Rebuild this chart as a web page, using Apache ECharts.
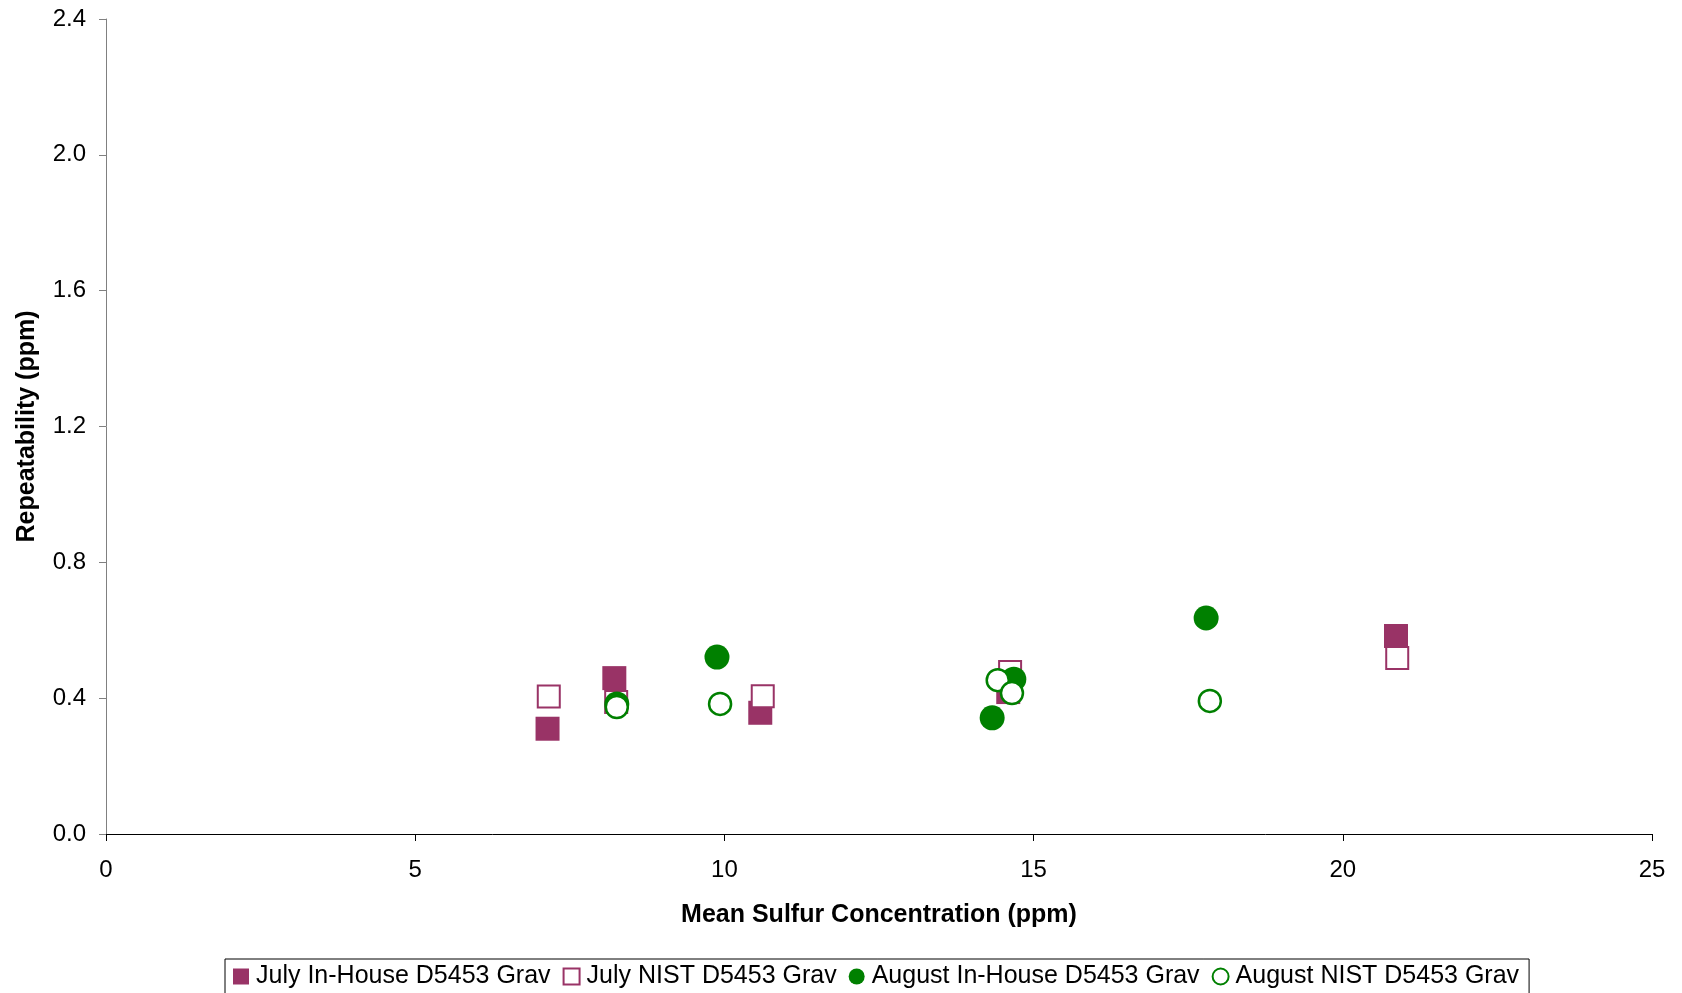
<!DOCTYPE html>
<html>
<head>
<meta charset="utf-8">
<script src="https://cdn.jsdelivr.net/npm/echarts@6/dist/echarts.min.js"></script>
<style>
html,body{margin:0;padding:0;background:#fff;}
#chart{width:1682px;height:993px;}
</style>
</head>
<body>
<div id="chart"></div>
<script>
const seriesNames = ['July In-House D5453 Grav', 'July NIST D5453 Grav', 'August In-House D5453 Grav', 'August NIST D5453 Grav'];
const julyInHouse = [[7.14, 0.31], [8.22, 0.459], [10.58, 0.357], [14.59, 0.418], [20.86, 0.583]];
const julyNist = [[7.16, 0.405], [8.25, 0.389], [10.62, 0.406], [14.62, 0.477], [20.88, 0.518]];
const augInHouse = [[8.26, 0.383], [9.88, 0.521], [14.33, 0.342], [14.68, 0.456], [17.79, 0.636]];
const augNist = [[8.26, 0.374], [9.93, 0.383], [14.42, 0.453], [14.65, 0.415], [17.85, 0.392]];
const xTitle = 'Mean Sulfur Concentration (ppm)';
const yTitle = 'Repeatability (ppm)';

const maroon = '#993366';
const green = '#008000';
const font = 'Liberation Sans, Arial, sans-serif';

const chart = echarts.init(document.getElementById('chart'));
chart.setOption({
  animation: false,
  backgroundColor: '#fff',
  textStyle: {fontFamily: font},
  grid: {left: 106, right: 30, top: 19, bottom: 159, containLabel: false},
  xAxis: {
    type: 'value', min: 0, max: 25, interval: 5,
    name: xTitle, nameLocation: 'middle', nameGap: 69,
    nameTextStyle: {fontSize: 25, fontWeight: 'bold', color: '#000', fontFamily: font},
    axisLine: {show: true, onZero: false, lineStyle: {color: '#000', width: 1}},
    axisTick: {show: true, inside: false, length: 7, lineStyle: {color: '#000'}},
    axisLabel: {fontSize: 24, color: '#000', margin: 24, fontFamily: font},
    splitLine: {show: false}
  },
  yAxis: {
    type: 'value', min: 0, max: 2.4, interval: 0.4,
    name: yTitle, nameLocation: 'middle', nameGap: 66, nameRotate: 90,
    nameTextStyle: {fontSize: 25, fontWeight: 'bold', color: '#000', fontFamily: font},
    axisLine: {show: true, onZero: false, lineStyle: {color: '#808080', width: 1}},
    axisTick: {show: true, inside: false, length: 7, lineStyle: {color: '#808080'}},
    axisLabel: {fontSize: 24, color: '#000', margin: 20, fontFamily: font, formatter: v => v.toFixed(1)},
    splitLine: {show: false}
  },
  legend: {
    data: seriesNames,
    top: 959,
    left: 225,
    itemWidth: 16, itemHeight: 16, itemGap: 12,
    padding: [5, 10, 20, 8],
    borderColor: '#000', borderWidth: 1,
    textStyle: {fontSize: 25, color: '#000', fontFamily: font, padding: [0, 0, 0, 2]}
  },
  series: [
    {name: seriesNames[0], type: 'scatter', data: julyInHouse, symbol: 'rect', symbolSize: 24,
     itemStyle: {color: maroon, opacity: 1}},
    {name: seriesNames[1], type: 'scatter', data: julyNist, symbol: 'rect', symbolSize: 22,
     itemStyle: {color: '#fff', borderColor: maroon, borderWidth: 2, opacity: 1}},
    {name: seriesNames[2], type: 'scatter', data: augInHouse, symbol: 'circle', symbolSize: 25,
     itemStyle: {color: green, opacity: 1}},
    {name: seriesNames[3], type: 'scatter', data: augNist, symbol: 'circle', symbolSize: 22,
     itemStyle: {color: '#fff', borderColor: green, borderWidth: 2.5, opacity: 1}}
  ]
});
</script>
</body>
</html>
